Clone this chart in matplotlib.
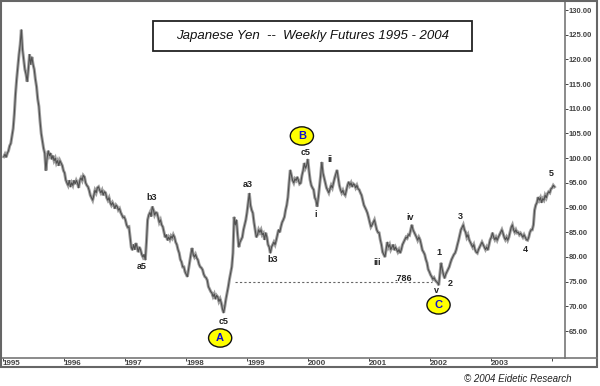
import numpy as np
import matplotlib
matplotlib.use("Agg")
import matplotlib.pyplot as plt
from matplotlib.patches import Ellipse, Rectangle
from matplotlib.lines import Line2D

plt.rcParams['font.family'] = ['Liberation Sans', 'DejaVu Sans']

# weekly closes, one list per year
yen_1995 = [100.3, 100.8, 100.2, 101, 101.5, 102.5, 103, 104.5, 106, 109,
            113, 116, 118.5, 121, 123, 126, 122, 120, 118, 117,
            115.5, 118, 121, 119, 120.5, 119, 118, 116, 114.5, 112,
            110.5, 107.5, 105, 103.5, 102, 101, 97.5, 100, 101.5, 100.5,
            101, 99.8, 100.5, 99.5, 100, 99, 99.5, 98.5, 99.5, 99,
            98.5, 97.5]
yen_1996 = [97, 95.6, 95, 94.5, 95.5, 94.2, 95, 94.5, 95.5, 94.8,
            95.5, 95, 94, 95.5, 96, 95.5, 96.5, 96.2, 95, 94.5,
            94.2, 93.5, 92.5, 92, 91.5, 92.5, 93.5, 93, 94, 94.2,
            93.5, 93, 93.5, 92.5, 93.2, 93, 92, 91.5, 92, 91,
            90.5, 91, 90.5, 89.8, 90.5, 90.2, 89.5, 89.8, 89, 88.5,
            88, 88.1]
yen_1997 = [87.5, 86.5, 86, 86.1, 84, 82, 81.4, 82.5, 81.5, 82.8,
            82, 81, 82, 81.4, 80.5, 80, 80.5, 79.4, 83, 87.5,
            88.5, 89, 88.2, 90.2, 89.5, 88.5, 89, 88.9, 88, 87,
            87.5, 86.5, 86.1, 85, 84, 84.5, 83.4, 84, 83.5, 84.2,
            83.8, 84.5, 84, 83, 82.5, 81.5, 80.8, 79.5, 79, 78,
            78, 77]
yen_1998 = [76.5, 76, 77.5, 79, 80.5, 81.8, 80.5, 80, 80.5, 79.8,
            79.4, 78.5, 78, 77.8, 77.4, 76.5, 76, 75.8, 75.3, 74,
            73.5, 73, 72.7, 72, 72.5, 71.5, 72.2, 71.9, 71, 71.5,
            70.7, 69.5, 68.7, 70, 71.5, 72.7, 74, 75.5, 76.8, 78,
            80.8, 88.1, 86.5, 87.5, 84.5, 82, 83, 83.5, 84, 85.5,
            86.5, 87.5]
yen_1999 = [89, 91, 92.9, 90.5, 89.5, 88.9, 87, 85.5, 84, 84.5,
            85.5, 85, 85.5, 84.5, 84.8, 83.5, 84.9, 84, 82.5, 82,
            80.8, 82, 82.5, 83, 82.5, 83.4, 84.5, 85.5, 85, 86.1,
            87, 87.5, 88.1, 89.5, 90.5, 92.1, 95, 97.6, 96.5, 95.5,
            95, 95.8, 95.5, 96.2, 95.5, 94.8, 95, 96.5, 97.5, 99,
            98, 98.5]
yen_2000 = [99.8, 97.5, 95.6, 94.5, 94, 93.6, 92, 91.5, 90.2, 92,
            94.2, 96.5, 99.2, 97, 96, 95, 94, 93.5, 93, 93.8,
            94.5, 94, 95, 96, 96.8, 97.6, 96, 94.5, 93.6, 93,
            93.5, 92.8, 92.5, 93.5, 94.5, 95.2, 94.5, 95, 94.2, 94.8,
            94.6, 94, 94.5, 93.8, 93.6, 93, 92.5, 91.5, 90.5, 90,
            89.5, 88.9]
yen_2001 = [88, 87, 86.1, 86.5, 87, 87.5, 86.5, 85.5, 85, 84.9,
            83.5, 82.5, 81, 80.5, 80, 81.5, 83, 82, 82.5, 81.5,
            82, 82.5, 81.4, 82, 81.5, 81, 81.5, 80.8, 81.5, 82.5,
            83, 83.5, 84, 83.8, 84.5, 84.4, 85.5, 86.5, 85.5, 85,
            84.5, 84, 83.4, 84, 83.5, 82.5, 81.4, 81, 80.5, 79.5,
            78.8, 77.5]
yen_2002 = [77, 76.4, 76, 75.5, 75.8, 75.3, 75, 74.8, 74.3, 76.5,
            78.8, 77.5, 76.5, 75.7, 76.5, 77, 77.5, 78, 78.8, 79.5,
            80, 80.5, 80.8, 81.5, 82.5, 83.4, 84.5, 85.5, 86, 86.5,
            85.5, 85, 84, 84.5, 83.5, 83, 82.5, 82, 82.5, 81.5,
            81, 80.8, 81.5, 82, 82.5, 83, 82.5, 82, 81.5, 82,
            81.4, 82.5]
yen_2003 = [83.5, 84, 84.9, 84, 83.5, 84, 83.4, 84, 84.5, 85,
            85.5, 84.8, 84, 83.5, 84, 83.4, 84, 85, 86, 86.5,
            85.5, 85, 85.5, 84.9, 85, 84.5, 84.8, 84.4, 84, 84.5,
            84, 83.5, 83.4, 84, 85, 85.5, 85.5, 86.5, 89.5, 90.5,
            91, 92.1, 91.5, 92, 91, 91.8, 91.5, 92.5, 92, 92.8,
            93.2, 93]
yen_2004 = [93.8, 94, 94.5, 94.2]

closes = (yen_1995 + yen_1996 + yen_1997 + yen_1998 + yen_1999 +
          yen_2000 + yen_2001 + yen_2002 + yen_2003 + yen_2004)
weeks = 1995 + (np.arange(len(closes)) * 7 + 5) / 365.25

years = list(range(1995, 2005))
year_labels = [str(y) for y in range(1995, 2004)] + ['']
price_ticks = list(range(65, 131, 5))

# wave labels: (text, year, price)
wave_labels = [('b3', 1997.43, 92.1), ('a5', 1997.27, 78.0),
               ('a3', 1999.01, 94.6), ('c5', 1998.61, 67.0),
               ('b3', 1999.42, 79.4), ('c5', 1999.96, 101.1),
               ('i', 2000.13, 88.5), ('ii', 2000.36, 99.8),
               ('iii', 2001.14, 78.8), ('iv', 2001.68, 87.9),
               ('1', 2002.15, 81.0), ('2', 2002.33, 74.7),
               ('v', 2002.11, 73.3), ('3', 2002.50, 88.1),
               ('4', 2003.57, 81.6), ('5', 2003.99, 97.0)]
circle_labels = [('A', 1998.56, 63.6), ('B', 1999.90, 104.5), ('C', 2002.14, 70.3)]
retrace_level = 74.9
retrace_span = (1998.80, 2002.03)

fig = plt.figure(figsize=(6, 3.86), dpi=100)
W, H = 600, 386
ax = fig.add_axes([2 / W, 1 - 358 / H, 563 / W, 356 / H])

ax.plot(weeks, closes, color='#a0a0a0', lw=2.2, solid_joinstyle='miter')
ax.plot(weeks, closes, color='#505050', lw=0.8)

ax.plot(retrace_span, [retrace_level, retrace_level], ls=(0, (2, 2)),
        color='#666666', lw=0.8)
ax.text(2001.56, 75.7, '.786', fontsize=6.5, fontweight='bold',
        ha='center', va='center', color='#222222')

for txt, x, y in wave_labels:
    ax.text(x, y, txt, fontsize=6.5, fontweight='bold', ha='center',
            va='center', color='#222222')

for txt, x, y in circle_labels:
    ax.add_patch(Ellipse((x, y), 0.38, 3.7, facecolor='#ffff00',
                         edgecolor='#111111', lw=1.0, zorder=5))
    ax.text(x, y, txt, fontsize=8, fontweight='bold', ha='center',
            va='center', color='#1010d0', zorder=6)

ax.set_xlim(1994.984, 2004.213)
ax.set_ylim(59.55, 131.62)

ax.yaxis.tick_right()
ax.set_yticks(price_ticks)
ax.set_yticklabels(['%.2f' % p for p in price_ticks], fontsize=5.5,
                   fontweight='bold', color='#333333')
ax.tick_params(axis='y', direction='out', length=2, pad=0.5, width=0.7,
               colors='#444444')

ax.set_xticks(years)
ax.set_xticklabels(year_labels, fontsize=5.8, fontweight='bold',
                   color='#333333', ha='left')
ax.tick_params(axis='x', direction='out', length=2.5, pad=-0.9, width=0.7,
               colors='#444444')

for side in ['left', 'top']:
    ax.spines[side].set_visible(False)
ax.spines['right'].set_color('#777777')
ax.spines['bottom'].set_color('#777777')
ax.spines['right'].set_linewidth(1.2)
ax.spines['bottom'].set_linewidth(1.2)

# bottom rule running on to the frame, outer frame, title box
fig.add_artist(Line2D([565 / W, 597 / W], [1 - 358 / H, 1 - 358 / H],
                      transform=fig.transFigure, color='#777777', lw=1.2))
fig.add_artist(Rectangle((1 / W, 1 - 367 / H), 596 / W, 366 / H,
                         transform=fig.transFigure, fill=False,
                         ec='#666666', lw=1.5))
fig.add_artist(Rectangle((153 / W, 1 - 51 / H), 319 / W, 30 / H,
                         transform=fig.transFigure, fill=False,
                         ec='#222222', lw=1.3))
fig.text(312.5 / W, 1 - 36 / H, 'Japanese Yen  --  Weekly Futures 1995 - 2004',
         fontsize=9.5, style='italic', ha='center', va='center', color='#111111')

fig.text(572 / W, 1 - 379 / H, '\u00a9 2004 Eidetic Research', fontsize=7,
         style='italic', ha='right', va='center', color='#222222')

fig.savefig('out.png', dpi=100)
